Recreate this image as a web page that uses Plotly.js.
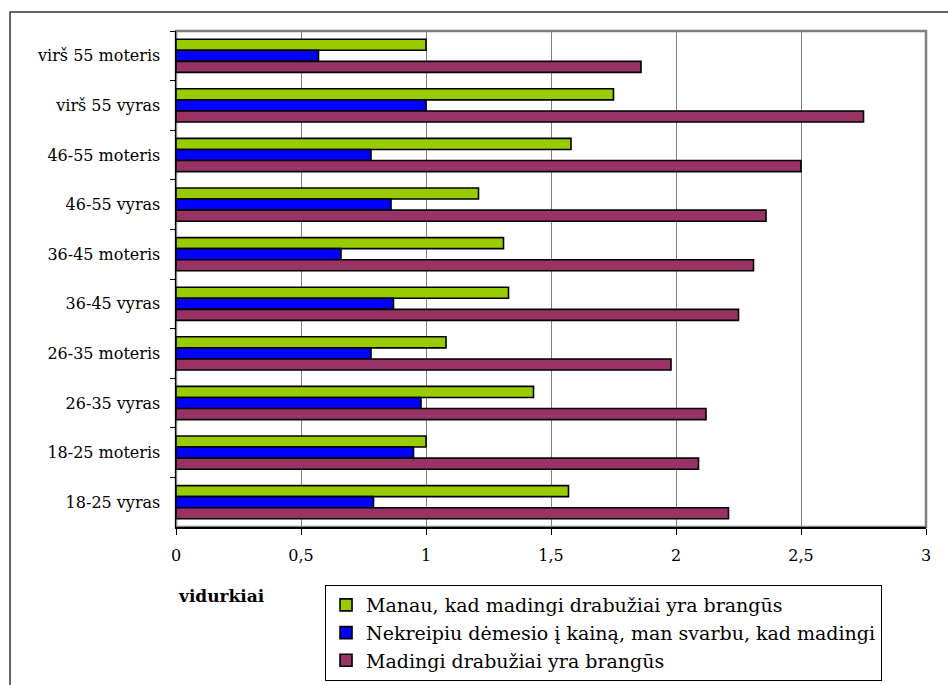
<!DOCTYPE html>
<html>
<head>
<meta charset="utf-8">
<script src="https://cdn.plot.ly/plotly-3.0.1.min.js"></script>
<style>
  html, body { margin: 0; padding: 0; background: #fff; }
  #chart { width: 948px; height: 685px; }
</style>
</head>
<body>
<div id="chart"></div>
<script>
// Age / gender groups, listed top to bottom
const groups = [
  'virš 55 moteris', 'virš 55 vyras', '46-55 moteris', '46-55 vyras',
  '36-45 moteris', '36-45 vyras', '26-35 moteris', '26-35 vyras',
  '18-25 moteris', '18-25 vyras'
];

const seriesNames = [
  'Manau, kad madingi drabužiai yra brangūs',
  'Nekreipiu dėmesio į kainą, man svarbu, kad madingi',
  'Madingi drabužiai yra brangūs'
];

// Mean scores per group
const manauBrangus = [1.00, 1.75, 1.58, 1.21, 1.31, 1.33, 1.08, 1.43, 1.00, 1.57];
const nekreipiu    = [0.57, 1.00, 0.78, 0.86, 0.66, 0.87, 0.78, 0.98, 0.95, 0.79];
const madingiBrangus = [1.86, 2.75, 2.50, 2.36, 2.31, 2.25, 1.98, 2.12, 2.09, 2.21];

const xTicks = [0, 0.5, 1, 1.5, 2, 2.5, 3];

const colors = ['#99CC00', '#0000FF', '#993366'];
const values = [manauBrangus, nekreipiu, madingiBrangus];

const serif = 'DejaVu Serif';

const traces = values.map((v, i) => ({
  type: 'bar',
  orientation: 'h',
  name: seriesNames[i],
  x: v,
  y: groups,
  marker: { color: colors[i], line: { color: '#000', width: 1.6 } },
  hoverinfo: 'x+y'
}));

const layout = {
  width: 948,
  height: 685,
  margin: { l: 176, r: 22, t: 31, b: 158, autoexpand: false },
  paper_bgcolor: '#fff',
  plot_bgcolor: '#fff',
  separators: ', ',
  barmode: 'group',
  bargap: 0.33,
  bargroupgap: 0,
  font: { family: serif, size: 16, color: '#000' },
  xaxis: {
    range: [0, 3],
    tickvals: xTicks,
    ticks: 'outside',
    ticklen: 6,
    tickcolor: '#000',
    showgrid: true,
    gridcolor: '#808080',
    gridwidth: 1,
    showline: true,
    linecolor: '#000',
    linewidth: 1.5,
    zeroline: false,
    ticklabelstandoff: 7,
    tickfont: { family: serif, size: 16 }
  },
  yaxis: {
    type: 'category',
    autorange: 'reversed',
    ticks: 'outside',
    tickson: 'boundaries',
    ticklen: 5,
    tickcolor: '#000',
    showgrid: false,
    showline: true,
    linecolor: '#000',
    linewidth: 1.5,
    ticklabelstandoff: 11,
    tickfont: { family: serif, size: 16 }
  },
  showlegend: true,
  legend: {
    x: 0.1987,
    y: -0.117,
    xanchor: 'left',
    yanchor: 'top',
    bordercolor: '#000',
    borderwidth: 1,
    bgcolor: '#fff',
    traceorder: 'normal',
    font: { family: serif, size: 19 },
    itemwidth: 30,
    tracegroupgap: 0
  },
  annotations: [{
    text: '<b>vidurkiai</b>',
    xref: 'paper', yref: 'paper',
    x: 0, y: -0.14,
    xanchor: 'left', yanchor: 'middle',
    showarrow: false,
    font: { family: serif, size: 17 }
  }],
  shapes: [
    // frame around the plotting area
    { type: 'rect', xref: 'paper', yref: 'paper', x0: 0, x1: 1, y0: 0, y1: 1,
      line: { color: '#808080', width: 2.5 }, layer: 'below' },
    // outer chart frame
    { type: 'rect', xref: 'paper', yref: 'paper',
      x0: -0.2213, x1: 1.06, y0: -0.36, y1: 1.0383,
      line: { color: '#333', width: 1.5 }, layer: 'below' }
  ]
};

Plotly.newPlot('chart', traces, layout, { displayModeBar: false, staticPlot: true });
</script>
</body>
</html>
